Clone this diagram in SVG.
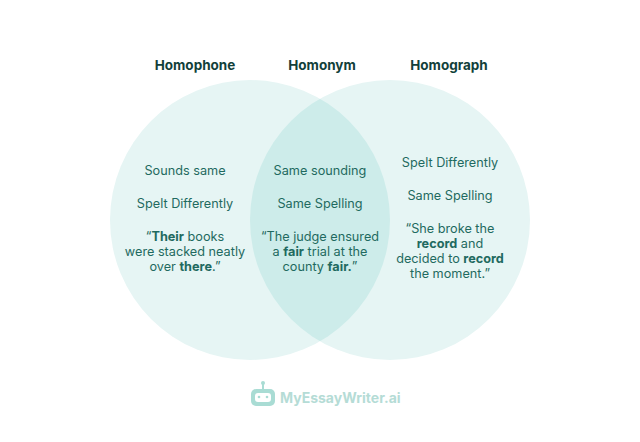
<svg xmlns="http://www.w3.org/2000/svg" width="640" height="442" viewBox="0 0 640 442">
<style>
text{font-family:Inter,"Liberation Sans",sans-serif;text-anchor:middle}
.t{font-size:12.7px;fill:#1f6a60}
.h{font-size:13.5px;font-weight:700;fill:#123f3a}
.b{font-weight:700}
</style>
<defs><clipPath id="cl"><circle cx="250" cy="220" r="140"/></clipPath></defs>
<rect width="640" height="442" fill="#fff"/>
<g id="homophone"><circle cx="250" cy="220" r="140" fill="#e6f5f4"/></g>
<g id="homograph"><circle cx="390" cy="220" r="140" fill="#e6f5f4"/></g>
<g id="homonym"><circle cx="390" cy="220" r="140" fill="#cdecea" clip-path="url(#cl)"/></g>
<g id="titles">
<text class="h" x="195" y="70">Homophone</text>
<text class="h" x="322" y="70">Homonym</text>
<text class="h" x="449" y="70">Homograph</text>
</g>
<g id="left-text">
<text class="t" x="185" y="175">Sounds same</text>
<text class="t" x="185" y="208">Spelt Differently</text>
<text class="t" x="185" y="241">“<tspan class="b">Their</tspan> books</text>
<text class="t" x="185" y="256">were stacked neatly</text>
<text class="t" x="185" y="271">over <tspan class="b">there</tspan>.”</text>
</g>
<g id="mid-text">
<text class="t" x="320" y="175">Same sounding</text>
<text class="t" x="320" y="208">Same Spelling</text>
<text class="t" x="320" y="241">“The judge ensured</text>
<text class="t" x="320" y="256">a <tspan class="b">fair</tspan> trial at the</text>
<text class="t" x="320" y="271">county <tspan class="b">fair.</tspan>”</text>
</g>
<g id="right-text">
<text class="t" x="450" y="167">Spelt Differently</text>
<text class="t" x="450" y="200">Same Spelling</text>
<text class="t" x="450" y="233">“She broke the</text>
<text class="t" x="450" y="248"><tspan class="b">record</tspan> and</text>
<text class="t" x="450" y="263">decided to <tspan class="b">record</tspan></text>
<text class="t" x="450" y="278">the moment.”</text>
</g>
<g id="logo" fill="#a9dcd4">
<rect x="251" y="389" width="24" height="17" rx="5"/>
<rect x="262" y="383" width="2" height="6"/>
<circle cx="263" cy="383" r="2"/>
<rect x="255" y="393" width="16" height="9" rx="3" fill="#fff"/>
<circle cx="259" cy="397" r="1.3"/><circle cx="267" cy="397" r="1.3"/>
<text x="280" y="403" style="font-size:14px;font-weight:700;fill:#b5dcd6;text-anchor:start">MyEssayWriter.ai</text>
</g>
</svg>
